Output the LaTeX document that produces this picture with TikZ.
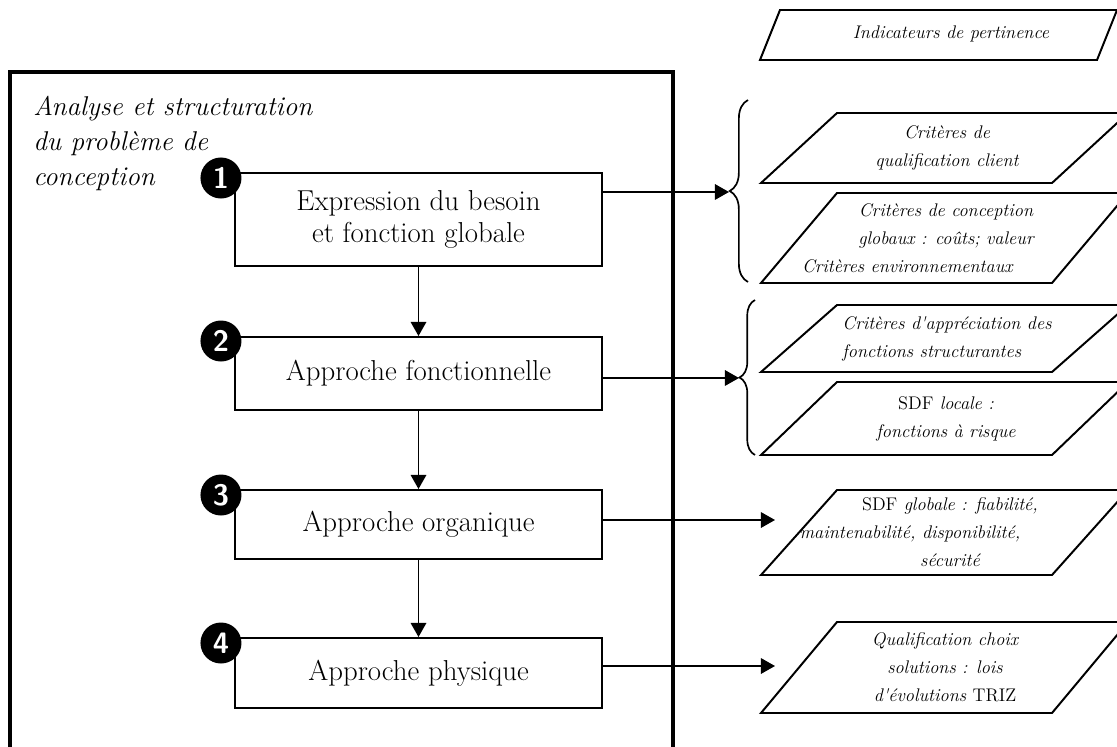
\documentclass[tikz,border=0pt]{standalone}
\usepackage{tikz}
\usetikzlibrary{arrows.meta,calc,decorations.pathreplacing}

\tikzset{
  para/.style={line width=1.4pt,line join=miter},
  accolade/.style={decorate,decoration={brace,amplitude=#1},line width=1.2pt},
}

\begin{document}
\begin{tikzpicture}[x=0.025cm,y=-0.025cm]
\useasboundingbox (0,0) rectangle (1117,747);
\fill[white] (0,0) rectangle (1117,747);

% cadre
\draw[line width=2.8pt] (10,760) -- (10,72) -- (673,72) -- (673,760);
\node[anchor=north west,inner sep=0pt,align=left,font=\fontsize{19.3}{25}\selectfont\itshape] (titre) at (33,96)
    {Analyse et structuration\\du problème de\\conception};

\begin{scope}[every node/.style={draw,line width=1.4pt,minimum width=9.175cm,align=center,
                                 font=\fontsize{20.5}{23}\selectfont}]
    \node[minimum height=2.325cm] (B1) at (418.5,219.5) {Expression du besoin\\et fonction globale};
    \node[minimum height=1.825cm] (B2) at (418.5,373.5) {Approche fonctionnelle};
    \node[minimum height=1.725cm] (B3) at (418.5,524.5) {Approche organique};
    \node[minimum height=1.75cm]  (B4) at (418.5,673)   {Approche physique};
\end{scope}

\begin{scope}[every node/.style={circle,fill=black,text=white,inner sep=0pt,minimum size=1.025cm,
                                 font=\fontsize{21}{21}\selectfont\sffamily\bfseries}]
    \node (N1) at ($(B1.north west)+(-13,6)$) {1};
    \node (N2) at ($(B2.north west)+(-13,5)$) {2};
    \node (N3) at ($(B3.north west)+(-13,6)$) {3};
    \node (N4) at ($(B4.north west)+(-13,6)$) {4};
\end{scope}

% parallelogrammes
\draw[para] (760,60) -- (1097,60) -- (1117,10) -- (780,10) -- cycle;
\foreach \t/\b in {113/183,193/283,305/372,382/455,490/575,622/713}
    \draw[para] (761,\b) -- (1052,\b) -- (1128,\t) -- (837,\t) -- cycle;

\begin{scope}[every node/.style={align=center,font=\fontsize{13}{20}\selectfont\itshape}]
    \node (I0) at (951,34)  {Indicateurs de pertinence};
    \node (C1) at (947,148) {Critères de\\qualification client};
    \node (C2) at (946,238) {Critères de conception\\globaux : coûts; valeur\\Critères environnementaux\rule{55pt}{0pt}};
    \node[align=left] (C3) at (947,338.5) {Critères d\textquotesingle appréciation des\\fonctions structurantes};
    \node (C4) at (946,418.5) {\textup{SDF} locale :\\fonctions à risque};
    \node (C5) at (950,532.5) {\textup{SDF} globale : fiabilité,\\maintenabilité, disponibilité,\rule{57pt}{0pt}\\sécurité};
    \node (C6) at (945,667.5) {Qualification choix\\solutions : lois\\d\textquotesingle évolutions \textup{TRIZ}};
\end{scope}

% accolades
\draw[accolade=13pt] (748,282) -- (748,100);
\draw[accolade=11pt] (755,455) -- (755,300);

\coordinate (P1) at (729,192);
\coordinate (P2) at (739,378);
\coordinate (P3) at (775,520);
\coordinate (P4) at (775,666);

\begin{scope}[>={Triangle[length=10pt,width=11pt]},
              every edge/.style={draw,line width=1.2pt}]
    \path [->] (B1) edge (B2);
    \path [->] (B2) edge (B3);
    \path [->] (B3) edge (B4);
    \path [->] (B1.east |- P1) edge (P1);
    \path [->] (B2.east |- P2) edge (P2);
    \path [->] (B3.east |- P3) edge (P3);
    \path [->] (B4.east |- P4) edge (P4);
\end{scope}
\end{tikzpicture}
\end{document}
